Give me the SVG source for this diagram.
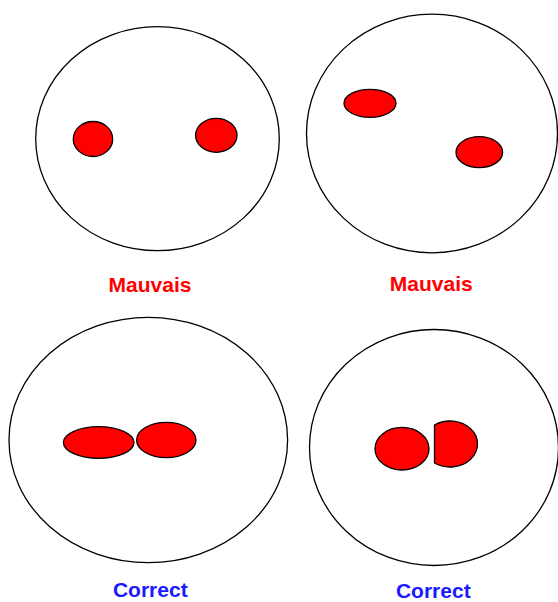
<svg xmlns="http://www.w3.org/2000/svg" width="558" height="602" viewBox="0 0 558 602">
<style>
.cell{fill:#ffffff;stroke:#000000;stroke-width:1.3}
.blob{fill:#ff0000;stroke:#000000;stroke-width:1.3}
.lbl{font-family:"Liberation Sans",Arial,sans-serif;font-weight:bold;font-size:21px;text-anchor:middle}
.bad{fill:#ff0000}
.good{fill:#1a1aff}
</style>
<rect width="558" height="602" fill="#ffffff"/>
<g id="cell-top-left">
<ellipse class="cell" cx="157.5" cy="138.7" rx="121.8" ry="112"/>
<ellipse class="blob" cx="93" cy="139" rx="19.7" ry="17.5"/>
<ellipse class="blob" cx="216.3" cy="135.3" rx="20.7" ry="17"/>
<text class="lbl bad" x="150" y="292">Mauvais</text>
</g>
<g id="cell-top-right">
<ellipse class="cell" cx="432" cy="133.5" rx="125.5" ry="119.3"/>
<ellipse class="blob" cx="370" cy="103.3" rx="26" ry="14"/>
<ellipse class="blob" cx="479.3" cy="152.2" rx="23.3" ry="15.5"/>
<text class="lbl bad" x="431.3" y="291">Mauvais</text>
</g>
<g id="cell-bottom-left">
<ellipse class="cell" cx="148.3" cy="440" rx="139.3" ry="122.7"/>
<ellipse class="blob" cx="98.7" cy="442.5" rx="35.3" ry="15.8"/>
<ellipse class="blob" cx="166.3" cy="440" rx="29.7" ry="17.7"/>
<text class="lbl good" x="150.3" y="597">Correct</text>
</g>
<g id="cell-bottom-right">
<ellipse class="cell" cx="434" cy="447.5" rx="124.5" ry="118"/>
<ellipse class="blob" cx="402" cy="448.7" rx="27" ry="21.3"/>
<path class="blob" d="M 434.5 425 A 27.5 23 0 1 1 434.5 463 Z"/>
<text class="lbl good" x="433.3" y="597.5">Correct</text>
</g>
<g id="connectors"/>
</svg>
